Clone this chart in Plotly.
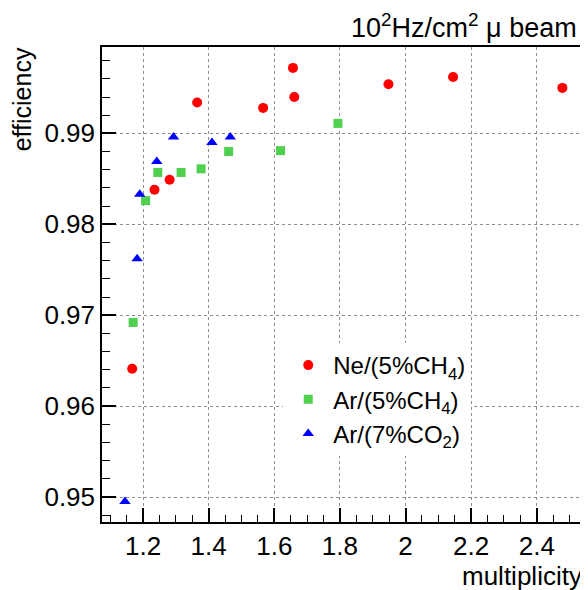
import plotly.graph_objects as go

# ---- data ----
ne_x = [1.167, 1.235, 1.281, 1.365, 1.566, 1.657, 1.661, 1.948, 2.145, 2.478]
ne_y = [0.9641, 0.9838, 0.9849, 0.9934, 0.9928, 0.9972, 0.9940, 0.9954, 0.9962, 0.9950]

ar_ch4_x = [1.170, 1.208, 1.245, 1.316, 1.377, 1.461, 1.619, 1.794]
ar_ch4_y = [0.9692, 0.9826, 0.9857, 0.9857, 0.9861, 0.9880, 0.9881, 0.9911]

ar_co2_x = [1.145, 1.182, 1.190, 1.242, 1.293, 1.410, 1.466]
ar_co2_y = [0.9495, 0.9762, 0.9833, 0.9869, 0.9896, 0.9890, 0.9896]

names = ["Ne/(5%CH<sub>4</sub>)", "Ar/(5%CH<sub>4</sub>)", "Ar/(7%CO<sub>2</sub>)"]

x_ticks = [1.2, 1.4, 1.6, 1.8, 2.0, 2.2, 2.4]
x_ticktext = ["1.2", "1.4", "1.6", "1.8", "2", "2.2", "2.4"]
y_ticks = [0.95, 0.96, 0.97, 0.98, 0.99]
y_ticktext = ["0.95", "0.96", "0.97", "0.98", "0.99"]

FONT = "Liberation Sans, Arial, Helvetica, sans-serif"

fig = go.Figure()
fig.add_trace(go.Scatter(x=ne_x, y=ne_y, mode="markers", name=names[0],
                         marker=dict(symbol="circle", size=10, color="#ff0000")))
fig.add_trace(go.Scatter(x=ar_ch4_x, y=ar_ch4_y, mode="markers", name=names[1],
                         marker=dict(symbol="square", size=9, color="#4fd04f")))
fig.add_trace(go.Scatter(x=ar_co2_x, y=ar_co2_y, mode="markers", name=names[2],
                         marker=dict(symbol="triangle-up", size=10, color="#0000ff")))

# page body has an 8px margin: work in window pixels and shift by it
OFF = 8
W, H = 588 - OFF, 590 - OFF
# plot frame in window pixels
FL, FR, FT, FB = 102, 587, 47, 522
L, R, T, B = FL - OFF, W - (FR - OFF), FT - OFF, H - (FB - OFF)
pw, ph = W - L - R, H - T - B

def px(x):
    return (x - OFF - L) / pw

def py(y):
    return (H - B - (y - OFF)) / ph

axis_common = dict(
    showline=True, linecolor="black", linewidth=1.5, mirror=True,
    ticks="inside", ticklen=14, tickwidth=1.5, tickcolor="black",
    showgrid=True, gridcolor="#8c8c8c", griddash="dot", gridwidth=1,
    zeroline=False,
    tickfont=dict(family=FONT, size=26, color="black"),
)

fig.update_layout(
    width=W, height=H,
    margin=dict(l=L, r=R, t=T, b=B),
    paper_bgcolor="white", plot_bgcolor="white",
    font=dict(family=FONT, color="black"),
    showlegend=True,
    legend=dict(x=px(284), y=py(343), xanchor="left", yanchor="top",
                bgcolor="white", borderwidth=0,
                font=dict(family=FONT, size=24, color="black"),
                itemwidth=40, tracegroupgap=0),
    xaxis=dict(range=[1.075, 2.547], tickmode="array", tickvals=x_ticks, ticktext=x_ticktext,
               minor=dict(dtick=0.05, tick0=1.0, ticklen=7, tickwidth=1.2, tickcolor="black",
                          ticks="inside", showgrid=False),
               **axis_common),
    yaxis=dict(range=[0.94725, 0.9995], tickmode="array", tickvals=y_ticks, ticktext=y_ticktext,
               minor=dict(dtick=0.002, tick0=0.94, ticklen=8, tickwidth=1.2, tickcolor="black",
                          ticks="inside", showgrid=False),
               **axis_common),
    annotations=[
        dict(text="10<sup>2</sup>Hz/cm<sup>2</sup> \u03bc beam", xref="paper", yref="paper",
             x=px(581), y=py(26), xanchor="right", yanchor="middle", showarrow=False,
             font=dict(family=FONT, size=27, color="black")),
        dict(text="multiplicity", xref="paper", yref="paper",
             x=px(586), y=py(576), xanchor="right", yanchor="middle", showarrow=False,
             font=dict(family=FONT, size=26, color="black")),
        dict(text="efficiency", xref="paper", yref="paper", textangle=-90,
             x=px(22), y=py(45), xanchor="center", yanchor="top", showarrow=False,
             font=dict(family=FONT, size=25, color="black")),
    ],
)

fig.write_html("out.html")
